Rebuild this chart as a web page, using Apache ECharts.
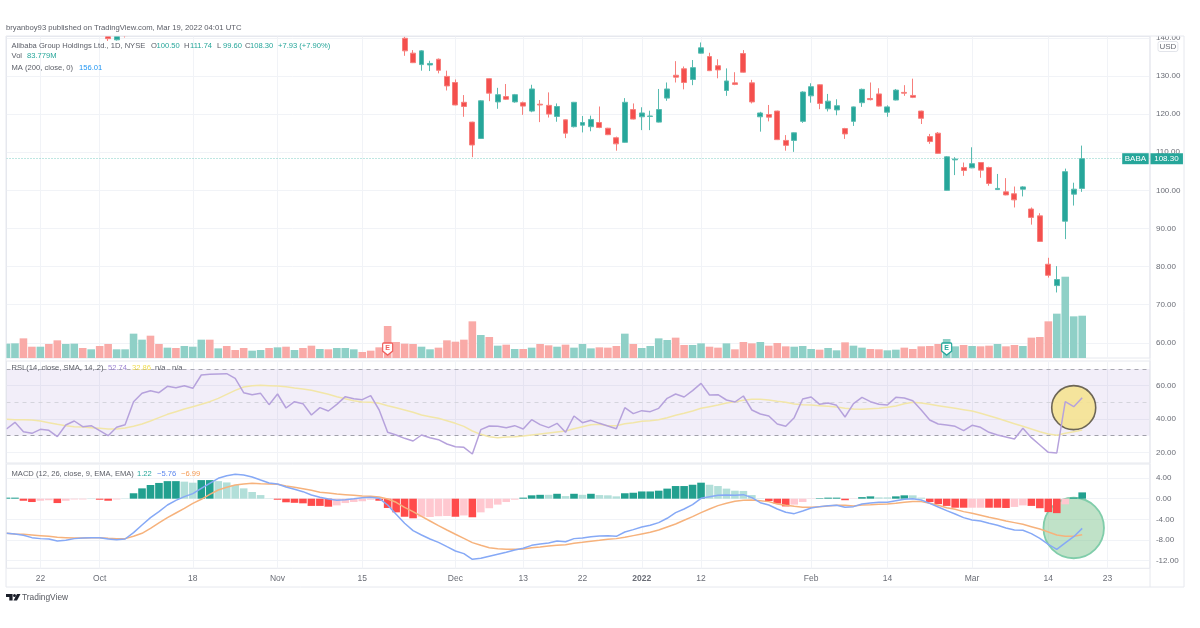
<!DOCTYPE html>
<html><head><meta charset="utf-8">
<style>html,body{margin:0;padding:0;background:#fff}#c{width:1200px;height:628px;filter:blur(0.55px)}</style>
<script src="https://cdn.jsdelivr.net/npm/echarts@6/dist/echarts.min.js"></script>
</head><body><div id="c"></div>
<script>
const dates=["Sep 16","Sep 17","Sep 20","Sep 21","Sep 22","Sep 23","Sep 24","Sep 27","Sep 28","Sep 29","Sep 30",
"Oct 1","Oct 4","Oct 5","Oct 6","Oct 7","Oct 8","Oct 11","Oct 12","Oct 13","Oct 14","Oct 15","Oct 18","Oct 19","Oct 20","Oct 21","Oct 22","Oct 25","Oct 26","Oct 27","Oct 28","Oct 29",
"Nov 1","Nov 2","Nov 3","Nov 4","Nov 5","Nov 8","Nov 9","Nov 10","Nov 11","Nov 12","Nov 15","Nov 16","Nov 17","Nov 18","Nov 19","Nov 22","Nov 23","Nov 24","Nov 26","Nov 29","Nov 30",
"Dec 1","Dec 2","Dec 3","Dec 6","Dec 7","Dec 8","Dec 9","Dec 10","Dec 13","Dec 14","Dec 15","Dec 16","Dec 17","Dec 20","Dec 21","Dec 22","Dec 23","Dec 27","Dec 28","Dec 29","Dec 30","Dec 31",
"Jan 3","Jan 4","Jan 5","Jan 6","Jan 7","Jan 10","Jan 11","Jan 12","Jan 13","Jan 14","Jan 18","Jan 19","Jan 20","Jan 21","Jan 24","Jan 25","Jan 26","Jan 27","Jan 28","Jan 31",
"Feb 1","Feb 2","Feb 3","Feb 4","Feb 7","Feb 8","Feb 9","Feb 10","Feb 11","Feb 14","Feb 15","Feb 16","Feb 17","Feb 18","Feb 22","Feb 23","Feb 24","Feb 25","Feb 28",
"Mar 1","Mar 2","Mar 3","Mar 4","Mar 7","Mar 8","Mar 9","Mar 10","Mar 11","Mar 14","Mar 15","Mar 16","Mar 17","Mar 18","Mar 21","Mar 22","Mar 23","Mar 24","Mar 25","Mar 28","Mar 29","Mar 30"];
const tickLabels={"Sep 22":"22","Oct 1":"Oct","Oct 18":"18","Nov 1":"Nov","Nov 15":"15","Dec 1":"Dec","Dec 13":"13","Dec 22":"22","Jan 3":"{b|2022}","Jan 12":"12","Feb 1":"Feb","Feb 14":"14","Mar 1":"Mar","Mar 14":"14","Mar 23":"23"};
const priceTicks=[60,70,80,90,100,110,120,130,140];
const rsiTicks=[20,40,60];
const macdTicks=[-12,-8,-4,0,4];
const blank=n=>Array(n).fill(null); // bars above the visible price range

const opens=[...blank(12),140.6,139.5,140.8,...blank(31),140.6,
139.9,136.0,133.0,132.9,134.4,129.9,128.3,123.1,117.9,113.6,129.3,123.2,124.6,123.2,123.0,120.8,122.6,122.3,119.4,118.5,116.7,117.1,116.7,117.8,116.3,113.8,112.6,121.2,119.3,119.4,117.9,124.2,130.2,131.9,129.1,136.0,135.1,132.7,126.2,128.2,135.9,128.2,119.3,119.9,120.8,113.1,113.1,118.1,124.8,127.7,121.4,121.1,116.2,118.1,123.0,124.1,125.3,120.5,123.7,125.7,124.9,120.8,114.1,115.0,100.0,108.0,106.0,105.9,107.3,106.0,100.2,99.6,99.1,100.3,95.1,93.3,80.6,75.0,91.9,99.0,100.5];
const closes=[...blank(12),139.8,140.6,140.6,...blank(31),140.5,
136.6,133.5,136.6,133.3,131.5,127.4,122.4,122.0,111.9,123.5,125.5,125.1,123.9,125.1,122.1,126.6,122.4,120.0,122.0,115.0,123.1,117.8,118.6,116.5,114.6,112.2,123.1,118.7,120.3,119.5,121.2,126.6,129.7,128.3,132.2,137.4,131.4,131.6,128.7,127.8,131.0,123.2,120.3,119.2,113.3,111.8,115.1,125.8,127.2,122.8,123.4,122.2,114.8,121.9,126.5,123.8,122.1,121.9,126.3,125.5,124.4,118.9,112.8,109.7,108.8,108.2,105.2,107.0,105.3,101.8,100.5,98.8,97.5,100.9,92.9,86.6,77.7,76.6,104.9,100.3,108.3];
const highs=[...blank(12),140.8,140.8,140.9,...blank(31),140.7,
140.3,136.8,136.8,134.0,134.6,131.4,129.1,125.0,118.0,123.7,129.4,126.9,127.9,125.3,123.3,127.7,123.7,125.7,122.8,118.6,123.2,119.5,119.6,122.0,116.4,114.1,124.2,122.8,121.8,120.9,126.6,128.3,133.9,132.5,134.2,138.8,136.1,134.4,132.0,131.0,136.8,129.0,120.6,122.4,120.9,114.5,115.2,126.0,128.1,127.8,125.3,123.9,116.4,122.0,126.7,128.3,126.8,122.3,126.6,127.6,129.3,120.9,114.8,115.3,109.0,108.7,107.3,111.3,107.4,106.2,104.3,103.2,101.0,101.1,95.5,94.0,82.3,80.1,105.7,102.0,111.74];
const lows=[...blank(12),139.2,139.3,140.1,...blank(31),140.4,
135.3,133.4,131.4,131.3,130.7,126.2,122.3,119.3,108.7,113.5,123.4,121.4,123.7,123.0,119.8,120.5,117.9,119.1,118.0,113.7,116.5,115.2,115.5,116.3,114.5,110.4,112.5,118.6,115.8,115.8,117.8,123.5,128.3,126.5,127.6,135.9,131.3,129.4,124.8,127.6,130.9,122.8,115.4,118.1,113.2,110.4,110.1,117.7,123.0,121.3,120.7,119.7,113.5,116.9,121.9,123.6,122.0,119.3,123.6,124.8,124.2,117.4,112.2,109.6,99.9,104.0,103.8,105.8,103.3,101.2,100.1,98.7,95.5,98.4,91.0,86.5,77.1,73.2,87.2,96.0,99.6];
const volumes=[28.4,29.0,38.9,22.4,22.4,27.7,35.0,27.7,28.4,19.8,17.2,23.8,27.7,17.2,17.2,48.2,36.3,44.2,27.7,20.5,19.8,23.8,22.4,36.3,36.3,19.1,23.8,15.8,19.8,14.5,15.8,19.8,21.1,22.4,15.8,19.8,24.4,17.8,17.2,19.8,19.8,17.2,11.9,14.5,21.1,63.4,31.7,28.4,27.7,22.4,17.2,20.5,35.0,32.3,36.3,72.6,45.5,41.6,24.4,26.4,17.8,17.8,20.5,27.7,25.1,22.4,26.4,20.5,27.7,19.1,21.1,20.5,23.8,48.2,27.7,19.8,23.8,38.9,35.6,40.3,25.7,25.7,29.0,22.4,20.5,29.0,17.2,31.7,29.0,31.7,24.4,29.7,23.1,22.4,23.8,17.8,16.5,19.8,15.2,31.0,24.4,20.5,17.8,17.2,15.2,16.5,20.5,17.8,23.1,23.8,27.7,37.6,23.1,25.7,23.8,23.1,24.4,27.7,23.1,25.7,23.8,40.3,41.6,72.6,87.8,161.0,82.5,83.779];
const earlyUpVolume=[0,1,4,7,8,10,13,14,15,16,19,21,22,23,25,29,30,32,34,37,39,40,41]; // volume bars whose candles are off-chart
const earlyCount=47;

const rsi=[34.0,38.0,32.4,31.4,33.8,33.2,29.4,36.4,38.8,35.4,36.0,33.0,30.0,35.0,36.6,50.4,55.4,57.0,55.8,59.6,58.8,60.0,58.4,66.4,66.8,67.0,67.2,64.4,55.8,54.6,55.4,48.6,55.0,46.6,50.4,49.2,42.4,46.8,44.8,48.8,53.4,52.2,51.6,54.0,45.4,32.0,30.4,28.4,26.8,30.4,28.8,27.6,25.0,23.4,23.0,19.0,33.6,35.8,35.6,34.8,36.0,34.0,39.6,36.6,34.8,37.4,32.0,41.8,37.8,39.2,37.4,35.8,34.2,46.8,43.2,45.0,44.4,46.4,52.4,55.0,53.2,57.0,61.4,54.4,54.6,51.4,50.2,53.8,45.4,43.0,41.8,37.0,35.6,40.8,52.0,53.2,48.8,49.6,48.2,41.2,49.2,53.0,50.4,48.8,48.4,53.0,52.6,51.0,45.4,39.4,37.0,36.4,35.6,33.0,36.2,35.0,32.0,30.4,29.2,28.0,34.4,28.8,24.4,20.0,19.6,50.4,47.4,52.74];
const rsiMa=[39.8,39.6,39.6,39.4,38.8,37.8,36.8,36.0,35.4,35.2,34.8,34.4,34.0,34.0,34.6,35.6,37.0,38.8,40.8,42.8,44.4,46.0,47.4,48.8,50.4,52.4,54.8,57.2,59.2,60.0,60.2,60.0,59.8,59.4,58.6,58.0,57.2,56.0,54.8,53.4,52.2,51.0,50.2,50.0,49.4,48.0,46.8,45.4,44.0,42.4,41.4,40.4,39.0,37.4,35.6,32.8,30.8,29.4,28.8,29.2,29.4,29.8,30.4,31.0,31.6,32.2,32.8,34.2,35.4,36.6,36.8,36.0,36.0,37.2,37.8,38.6,39.0,39.6,40.8,42.2,43.4,44.8,46.4,47.4,48.4,49.6,50.4,51.2,51.8,51.8,51.4,50.6,50.0,49.0,48.6,48.4,48.0,47.6,47.2,46.4,46.0,45.8,46.2,46.4,47.0,47.8,49.2,50.0,49.6,48.8,48.0,47.2,46.4,45.6,44.8,43.4,42.0,40.4,38.8,37.2,35.6,34.0,32.4,31.0,30.2,31.4,32.4,33.4];
const macd=[-6.71,-6.84,-7.1,-7.55,-7.74,-7.81,-8.2,-8.07,-7.74,-7.62,-7.55,-7.55,-7.81,-7.94,-7.81,-6.58,-5.1,-3.68,-2.51,-1.22,-0.32,0.39,0.98,2.01,2.98,3.95,4.46,4.72,4.59,4.21,3.62,3.04,2.85,2.27,1.82,1.36,0.72,0.27,-0.06,-0.32,-0.19,0,0.2,0.27,0.07,-1.22,-3.03,-4.77,-6.19,-7.03,-7.81,-8.46,-9.3,-10.13,-10.65,-11.75,-11.56,-11.17,-10.78,-10.39,-9.94,-9.62,-9.04,-8.78,-8.58,-8.2,-8.33,-7.74,-7.62,-7.36,-7.23,-7.16,-7.29,-6.45,-6.0,-5.48,-5.16,-4.64,-3.8,-2.71,-2.0,-1.16,0.07,0.39,0.65,0.72,0.65,0.78,0.2,-0.77,-1.22,-2.0,-2.64,-2.9,-2.38,-1.8,-1.54,-1.35,-1.28,-1.67,-1.54,-1.03,-0.83,-0.7,-0.7,-0.38,-0.12,0,-0.25,-0.9,-1.61,-2.32,-2.96,-3.67,-4.13,-4.32,-4.77,-5.16,-5.68,-6.07,-6.13,-6.78,-7.68,-8.84,-9.81,-8.58,-7.36,-5.76];
const signal=[-6.71,-6.84,-6.9,-7.03,-7.16,-7.29,-7.49,-7.55,-7.62,-7.62,-7.55,-7.55,-7.68,-7.74,-7.74,-7.29,-6.71,-5.74,-4.71,-3.68,-2.77,-1.87,-0.9,-0.12,0.85,1.69,2.2,2.66,2.85,2.98,2.91,2.85,2.79,2.46,2.2,1.94,1.62,1.23,1.11,0.91,0.78,0.65,0.52,0.46,0.33,-0.06,-0.7,-1.67,-2.51,-3.42,-4.32,-5.23,-6.07,-6.9,-7.68,-8.52,-9.04,-9.49,-9.68,-9.81,-9.81,-9.75,-9.49,-9.36,-9.17,-9.04,-8.91,-8.65,-8.46,-8.26,-8.07,-7.87,-7.74,-7.49,-7.16,-6.84,-6.52,-6.07,-5.48,-4.9,-4.19,-3.48,-2.71,-2.0,-1.35,-0.9,-0.51,-0.32,-0.25,-0.38,-0.57,-1.03,-1.28,-1.48,-1.67,-1.67,-1.54,-1.41,-1.28,-1.28,-1.41,-1.22,-1.16,-1.09,-1.03,-0.9,-0.7,-0.57,-0.57,-0.9,-1.28,-1.74,-2.06,-2.51,-2.84,-3.22,-3.61,-3.93,-4.32,-4.64,-4.97,-5.42,-5.87,-6.45,-7.03,-7.29,-7.29,-6.99];
const hist=[0.2,0.2,-0.4,-0.65,-0.4,-0.3,-0.85,-0.4,-0.15,-0.15,0.05,-0.2,-0.4,-0.15,0.05,1.05,2.0,2.65,3.05,3.4,3.4,3.3,3.1,3.6,3.6,3.4,3.15,2.65,2.0,1.3,0.7,0.05,-0.2,-0.7,-0.8,-0.9,-1.4,-1.4,-1.55,-1.3,-0.85,-0.65,-0.5,-0.2,-0.4,-1.8,-2.65,-3.5,-3.8,-3.5,-3.55,-3.4,-3.35,-3.5,-3.25,-3.6,-2.65,-1.85,-1.15,-0.65,-0.2,0.2,0.65,0.75,0.75,0.95,0.5,0.95,0.75,0.95,0.7,0.65,0.45,1.05,1.15,1.4,1.4,1.55,1.95,2.45,2.45,2.7,3.1,2.7,2.45,1.95,1.55,1.5,0.7,0.05,-0.45,-0.95,-1.5,-1.15,-0.65,-0.05,0.1,0.2,0.2,-0.3,-0.05,0.3,0.45,0.25,0.25,0.45,0.65,0.65,0.2,-0.65,-1.05,-1.4,-1.75,-1.75,-1.75,-1.75,-1.75,-1.75,-1.8,-1.6,-1.3,-1.4,-1.85,-2.6,-2.8,-1.1,0.2,1.22];
const histStrong=[0,1,2,3,6,11,12,15,16,17,18,19,20,23,24,32,33,34,35,36,37,38,44,45,46,47,48,53,55,61,62,63,65,67,69,73,74,75,76,77,78,79,80,81,82,90,91,92,96,97,98,99,101,102,105,106,109,110,111,112,113,116,117,118,121,122,123,124,126,127];

const last=108.30, rsiCircle=46.8, macdCircle=-5.68, circleAt="Mar 17", earningsPrice=58.35;
const UP='#26a69a',DOWN='#f44f4d',GRID='#f1f3f7',FRAME='#e6e8ee',TXT='#5a5d66',LABEL='#6a6d76';
const FONT='"Liberation Sans",Arial,sans-serif';

const candleData=opens.map((o,i)=>[o,closes[i],lows[i],highs[i]]);
const volData=volumes.map((v,i)=>{
  const up=i<earlyCount?earlyUpVolume.includes(i):closes[i]>=opens[i];
  return {value:v,itemStyle:{color:up?'#8fd0c7':'#f9aaa7'}};
});
const histData=hist.map((v,i)=>{
  const s=histStrong.includes(i);
  return {value:v,itemStyle:{color:v>=0?(s?'#22a08f':'#b2dfd9'):(s?'#ff4b4b':'#ffc8d0')}};
});
const isTick=(idx,val)=>tickLabels[val]!==undefined;
const LEFT=6.5,WIDTH=1143.45;
const xAxisBase=(gridIndex,showLabel)=>({type:'category',gridIndex,data:dates,boundaryGap:false,
  axisLine:{show:false},axisTick:{show:false},
  axisLabel:{show:showLabel,interval:isTick,color:LABEL,fontFamily:FONT,fontSize:8.5,margin:6,hideOverlap:false,
    formatter:v=>tickLabels[v]||'',rich:{b:{fontWeight:'bold',color:LABEL,fontFamily:FONT,fontSize:8.5}}},
  splitLine:{show:true,interval:isTick,lineStyle:{color:GRID,width:1}}});
const yAxisBase=(gridIndex,min,max,ticks)=>({type:'value',gridIndex,position:'right',min,max,scale:true,
  axisLine:{show:false},axisTick:{show:false,customValues:ticks},
  axisLabel:{color:LABEL,fontFamily:FONT,fontSize:8,margin:6,customValues:ticks,align:'left',formatter:v=>v.toFixed(2)},
  splitLine:{show:true,lineStyle:{color:GRID,width:1}}});

const txt=(x,y,text,fill,extra)=>({type:'text',z:100,x,y,style:Object.assign({text,fill,font:'7.6px '+FONT,verticalAlign:'middle'},extra||{})});
const shield='path://M1 0H9Q10 0 10 1V8L5 12L0 8V1Q0 0 1 0Z';
const badge=(name,bg,offset,w)=>({coord:['Mar 30',last],symbol:'rect',symbolSize:[w,11],symbolOffset:[offset,0],itemStyle:{color:bg},
  label:{show:true,position:'inside',formatter:name,color:'#fff',fontSize:8,fontFamily:FONT}});
const earning=(date,c)=>({coord:[date,earningsPrice],symbol:shield,symbolSize:[10,12],itemStyle:{color:'#fff',borderColor:c,borderWidth:1.3},
  label:{show:true,position:'inside',formatter:'E',color:c,fontSize:7,fontWeight:'bold',fontFamily:FONT,offset:[0,-1]}});

const option={
  animation:false,backgroundColor:'#fff',
  grid:[
    {left:LEFT,width:WIDTH,top:36.5,height:321.5,show:true,borderColor:FRAME,backgroundColor:'transparent'},
    {left:LEFT,width:WIDTH,top:361,height:102,show:true,borderColor:FRAME,backgroundColor:'transparent'},
    {left:LEFT,width:WIDTH,top:464,height:104.3,show:true,borderColor:FRAME,backgroundColor:'transparent'}
  ],
  xAxis:[xAxisBase(0,false),xAxisBase(0,false),xAxisBase(1,false),xAxisBase(2,true)],
  yAxis:[
    yAxisBase(0,56,140.37,priceTicks),
    {type:'value',gridIndex:0,show:false,min:0,max:636.7,splitLine:{show:false}},
    yAxisBase(1,13.6,74.8,rsiTicks),
    yAxisBase(2,-13.49,6.72,macdTicks)
  ],
  series:[
    {type:'bar',name:'Vol',xAxisIndex:1,yAxisIndex:1,data:volData,barWidth:7.6,z:2,clip:true},
    {type:'candlestick',name:'BABA',xAxisIndex:0,yAxisIndex:0,data:candleData,barWidth:5.4,z:3,clip:true,
      itemStyle:{color:UP,color0:DOWN,borderColor:'#58bbb0',borderColor0:'#f77f7c',borderWidth:1},
      markLine:{silent:true,symbol:'none',z:1,label:{show:false},lineStyle:{color:'#7fcfc5',type:[1,2],width:1},data:[{yAxis:last}]},
      markPoint:{silent:true,z:6,data:[badge('108.30','#26a69a',16.5,33),badge('BABA','#26a69a',-14.5,26.5),earning('Nov 18','#f0605d'),earning('Feb 24','#26a69a')]}},
    {type:'scatter',name:'rsiCircle',xAxisIndex:2,yAxisIndex:2,data:[[circleAt,rsiCircle]],symbol:'circle',symbolSize:44,clip:false,z:2,silent:true,
      itemStyle:{color:'rgba(246,226,140,0.85)',borderColor:'#6d6656',borderWidth:1.6,opacity:1}},
    {type:'line',name:'RSI',xAxisIndex:2,yAxisIndex:2,data:rsi,showSymbol:false,z:4,lineStyle:{color:'#b6a2dc',width:1.5},
      markArea:{silent:true,z:1,itemStyle:{color:'rgba(126,87,194,0.1)'},data:[[{yAxis:70},{yAxis:30}]]},
      markLine:{silent:true,symbol:'none',z:2,label:{show:false},data:[
        {yAxis:70,lineStyle:{color:'#a9a9b2',type:[4,4],width:1}},
        {yAxis:50,lineStyle:{color:'#d4d4dc',type:[4,4],width:1}},
        {yAxis:30,lineStyle:{color:'#a0a0aa',type:[4,4],width:1}}]}},
    {type:'line',name:'RSI MA',xAxisIndex:2,yAxisIndex:2,data:rsiMa,showSymbol:false,z:3,lineStyle:{color:'#f2e6a8',width:1.5}},
    {type:'scatter',name:'macdCircle',xAxisIndex:3,yAxisIndex:3,data:[[circleAt,macdCircle]],symbol:'circle',symbolSize:60.5,clip:false,z:1,silent:true,
      itemStyle:{color:'rgba(130,198,145,0.5)',borderColor:'#80cdaa',borderWidth:1.8,opacity:1}},
    {type:'bar',name:'Histogram',xAxisIndex:3,yAxisIndex:3,data:histData,barWidth:7.6,z:2,clip:true},
    {type:'line',name:'Signal',xAxisIndex:3,yAxisIndex:3,data:signal,showSymbol:false,z:3,lineStyle:{color:'#f6b27c',width:1.5}},
    {type:'line',name:'MACD',xAxisIndex:3,yAxisIndex:3,data:macd,showSymbol:false,z:4,lineStyle:{color:'#86a9f6',width:1.5}}
  ],
  graphic:[
    {type:'rect',z:90,shape:{x:0,y:33,width:1200,height:3},style:{fill:'#fff'}},
    {type:'rect',z:90,shape:{x:0,y:300,width:6,height:280},style:{fill:'#fff'}},
    {type:'rect',z:91,shape:{x:6,y:36,width:1178,height:551},style:{fill:'none',stroke:FRAME,lineWidth:1}},
    {type:'line',z:91,shape:{x1:1150,y1:36,x2:1150,y2:587},style:{stroke:FRAME,lineWidth:1}},
    txt(6,28,'bryanboy93 published on TradingView.com, Mar 19, 2022 04:01 UTC',TXT,{font:'7.7px '+FONT}),
    txt(11.5,45.7,'Alibaba Group Holdings Ltd., 1D, NYSE',TXT),
    txt(151,45.7,'O',TXT),txt(156.5,45.7,'100.50',UP),
    txt(184,45.7,'H',TXT),txt(190,45.7,'111.74',UP),
    txt(217,45.7,'L',TXT),txt(223,45.7,'99.60',UP),
    txt(245,45.7,'C',TXT),txt(250,45.7,'108.30',UP),
    txt(278,45.7,'+7.93 (+7.90%)',UP),
    txt(11.5,56.3,'Vol',TXT),txt(27,56.3,'83.779M',UP),
    txt(11.5,67.7,'MA (200, close, 0)',TXT),txt(79,67.7,'156.01','#2196f3'),
    txt(11.5,367.7,'RSI (14, close, SMA, 14, 2)',TXT),txt(108,367.7,'52.74','#9f86d4'),txt(132,367.7,'32.86','#f0dc50'),txt(155,367.7,'n/a',TXT),txt(172,367.7,'n/a',TXT),
    txt(11.5,473.7,'MACD (12, 26, close, 9, EMA, EMA)',TXT),txt(137,473.7,'1.22',UP),txt(157,473.7,'\u22125.76','#5b86ee'),txt(181,473.7,'\u22126.99','#f59a52'),
    {type:'text',z:100,x:1158,y:41.5,style:{text:'USD',fill:LABEL,font:'8px '+FONT,padding:[1,1.5],borderColor:'#e2e4ea',borderWidth:1,borderRadius:2}},
    {type:'polygon',z:100,shape:{points:[[6,594],[12.6,594],[12.6,600.5],[9.3,600.5],[9.3,597],[6,597]]},style:{fill:'#1b1f2a'}},
    {type:'circle',z:100,shape:{cx:14.5,cy:595.4,r:1.5},style:{fill:'#1b1f2a'}},
    {type:'polygon',z:100,shape:{points:[[17,594],[20.5,594],[17,600.5],[13.5,600.5]]},style:{fill:'#1b1f2a'}},
    txt(22,598,'TradingView','#55585f',{font:'8.4px '+FONT})
  ]
};
const chart=echarts.init(document.getElementById('c'),null,{renderer:'canvas'});
chart.setOption(option);
</script></body></html>
